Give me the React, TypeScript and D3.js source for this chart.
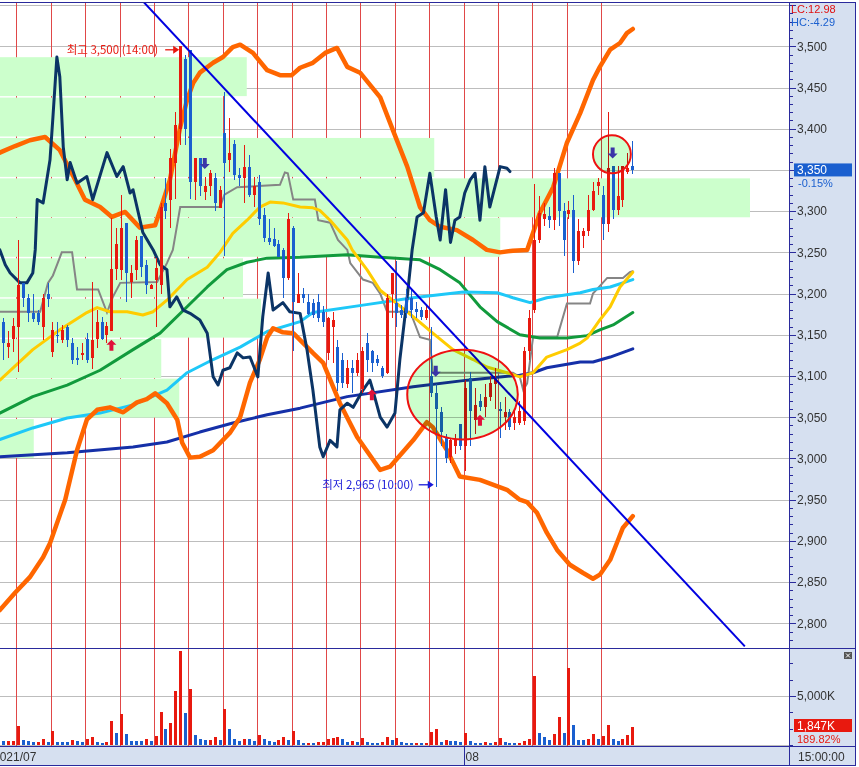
import * as d3 from "d3";

// hourly candles, index 0 = last 3 bars of 2021/07/13 ... index 128 = 2021/08/06 15:00
const opens = [3165,3135,3145,3160,3213,3195,3176,3176,3160,3200,
  3129,3150,3144,3160,3140,3122,3125,3145,3122,3145,
  3166,3150,3155,3230,3229,3286,3214,3229,3270,3235,
  3205,3217,3210,3310,3314,3358,3400,3485,3495,3335,
  3365,3323,3330,3340,3304,3395,3362,3382,3344,3340,
  3353,3320,3335,3295,3268,3266,3260,3253,3219,3280,
  3189,3200,3190,3188,3190,3178,3128,3160,3135,3120,
  3090,3110,3104,3084,3140,3130,3121,3110,3104,3200,
  3188,3180,3195,3195,3181,3180,3170,3100,3080,3056,
  3025,3002,3015,3042,3015,3098,3047,3070,3062,3075,
  3090,3060,3050,3056,3043,3043,3045,3130,3180,3265,
  3290,3294,3289,3346,3300,3296,3302,3240,3270,3276,
  3302,3330,3320,3285,3355,3302,3314,3348,3355];
const highs = [3170,3155,3170,3265,3213,3200,3200,3180,3200,3213,
  3166,3165,3162,3162,3146,3135,3140,3152,3214,3180,
  3172,3166,3292,3280,3320,3286,3235,3270,3270,3241,
  3212,3243,3310,3340,3375,3420,3500,3490,3495,3365,
  3365,3342,3350,3346,3330,3445,3413,3386,3352,3380,
  3368,3342,3344,3304,3290,3280,3265,3255,3298,3282,
  3225,3207,3200,3193,3200,3185,3172,3178,3144,3128,
  3120,3120,3128,3135,3152,3132,3125,3112,3200,3225,
  3240,3186,3205,3205,3190,3184,3186,3160,3090,3062,
  3030,3025,3030,3042,3095,3105,3085,3078,3090,3100,
  3110,3068,3075,3060,3060,3070,3135,3180,3333,3318,
  3310,3305,3352,3346,3310,3312,3320,3290,3280,3320,
  3335,3340,3330,3420,3355,3355,3355,3370,3385];
const lows = [3120,3122,3129,3105,3184,3166,3166,3162,3144,3184,
  3123,3140,3140,3135,3115,3113,3120,3116,3108,3134,
  3144,3140,3155,3217,3217,3190,3195,3217,3220,3200,
  3205,3160,3200,3290,3280,3315,3380,3380,3315,3314,
  3318,3314,3318,3300,3304,3245,3348,3338,3330,3310,
  3317,3305,3283,3262,3259,3256,3244,3195,3217,3130,
  3189,3189,3174,3170,3165,3160,3120,3116,3082,3085,
  3085,3080,3100,3080,3105,3105,3112,3098,3102,3170,
  3160,3170,3170,3170,3170,3168,3168,3075,2965,3015,
  2995,2995,3005,3010,2985,3015,3030,3058,3050,3070,
  3060,3025,3035,3035,3035,3040,3040,3120,3176,3261,
  3282,3280,3277,3282,3245,3290,3225,3235,3255,3270,
  3300,3320,3265,3275,3290,3295,3305,3345,3345];
const closes = [3140,3140,3161,3211,3195,3177,3169,3165,3195,3193,
  3156,3148,3156,3144,3120,3120,3128,3120,3144,3166,
  3145,3161,3230,3260,3280,3225,3225,3265,3232,3210,
  3210,3231,3305,3300,3365,3405,3500,3400,3335,3365,
  3330,3330,3346,3310,3326,3358,3370,3344,3340,3353,
  3320,3330,3290,3268,3262,3258,3244,3219,3290,3190,
  3200,3195,3175,3174,3170,3165,3170,3168,3092,3092,
  3110,3104,3120,3130,3120,3116,3116,3100,3195,3225,
  3176,3174,3176,3180,3178,3171,3180,3080,3060,3032,
  3000,3022,3023,3015,3085,3058,3065,3063,3075,3092,
  3096,3057,3056,3038,3050,3058,3130,3170,3265,3298,
  3296,3289,3346,3300,3265,3302,3240,3276,3276,3302,
  3325,3335,3285,3352,3302,3318,3355,3352,3350];

// volume in K shares, and bar colour (r = up, b = down)
const volumes = [410,410,410,1940,510,410,310,310,610,310,
  1430,310,310,310,510,410,310,610,820,310,
  200,310,2450,1220,3160,1120,410,410,410,610,
  410,920,3370,1630,2240,5500,9600,3260,5700,1020,
  610,510,510,820,510,3670,1630,610,410,610,
  610,410,1020,610,410,310,510,820,510,1430,
  510,200,200,200,310,310,610,710,820,610,
  310,410,310,710,310,200,200,310,820,510,
  710,310,200,200,200,200,200,1360,1630,310,
  510,410,410,310,1220,410,200,200,310,200,
  310,710,310,200,200,200,410,610,7040,1220,
  820,510,1120,2860,1220,7860,2040,510,510,610,
  1120,610,920,2040,610,410,610,1020,1847];
const volumeSide = ("brrrbbbrrb" + "rbbbrbbrrb" + "brrbrbbbbr" + "brrbrrrbrb" + "bbrrbrbbbr" +
  "bbrbbbrrbr" + "bbrbrrrrrb" + "brbrbbbrrb" + "rbbbrbrrrb" + "rbbbrbbbrb" +
  "rrbbbrrrrb" + "bbrrbrbbbr" + "rbrrbbrrr").split("");

// first bar of every trading day
const dayStarts = [3, 10, 17, 24, 31, 38, 45, 52, 59, 66, 73, 80, 87, 94, 101, 108, 115, 122];

// price-by-volume bands (low price of band, relative volume)
const bandLows = [2999, 3048, 3096, 3145, 3194, 3243, 3291, 3340, 3389, 3438];
const bandVolumes = [4.5, 23.9, 21.5, 34.8, 32.4, 66.7, 100, 57.9, 29.7, 32.9];
const bandSize = 48.8;

// indicator lines as [bar index, price]
const bbUpper: [number, number][] = [[-0.7,3371],[2.4,3379],[5.4,3386],[8.5,3390],[11.5,3374],[14.6,3338],[16.6,3314],[19.7,3305],[22.1,3293],[24.8,3299],[27.8,3280],[30.9,3283],[32.3,3308],[33.9,3338],[36,3402],[37.4,3435],[38.6,3455],[40,3468],[42.7,3480],[44.7,3487],[46.7,3499],[48.2,3502],[50.8,3492],[53.7,3471],[56.3,3465],[58.7,3465],[60.4,3474],[63,3480],[65.5,3492],[67.9,3498],[70,3475],[72.6,3468],[76.7,3438],[79.3,3398],[82.2,3354],[84.8,3305],[86.8,3289],[88.9,3281],[92.3,3277],[95.6,3265],[98.4,3253],[101.1,3250],[103.7,3252],[106.6,3253],[109.2,3298],[111.9,3329],[114.7,3383],[117.4,3419],[120,3459],[121.4,3475],[123.5,3496],[125.5,3504],[126.9,3516],[128.1,3521]];
const bbLower: [number, number][] = [[-0.7,2816],[2.4,2837],[5.4,2856],[8.1,2880],[9.5,2897],[12.6,2950],[15,3010],[17,3047],[19.1,3059],[21.7,3062],[24.4,3056],[27.2,3068],[29.2,3072],[30.9,3079],[33.3,3067],[35.4,3047],[36.4,3019],[38,3001],[40,3002],[42.7,3010],[46.1,3031],[48.2,3050],[50.2,3092],[52.2,3120],[53.7,3147],[54.9,3158],[56.9,3153],[59,3152],[63,3128],[65.1,3116],[68.5,3067],[72,3026],[76.7,2986],[78.7,2990],[83.4,3022],[86.2,3044],[87.4,3038],[90.3,3010],[92.9,2978],[97,2974],[102.5,2962],[105.1,2950],[106.6,2947],[108.6,2934],[110.6,2910],[112.7,2889],[115.3,2871],[118,2861],[120,2854],[121.4,2859],[123.5,2877],[124.9,2898],[126.1,2916],[128.1,2930]];
const lagging: [number, number][] = [[-0.7,3253],[0.4,3235],[1.4,3225],[3.4,3213],[4.8,3213],[6,3225],[6.5,3253],[6.9,3314],[8.1,3310],[9.5,3362],[10.1,3414],[10.9,3487],[11.5,3463],[12.2,3378],[13,3338],[13.6,3359],[15,3334],[17,3342],[18.2,3314],[21.1,3371],[23.1,3342],[24.4,3354],[25.8,3322],[26.4,3326],[28.4,3274],[30.5,3253],[31.9,3235],[33.3,3229],[33.9,3184],[35.3,3196],[36.6,3180],[38,3176],[40,3168],[41.5,3152],[42.7,3099],[43.7,3089],[44.7,3107],[46.1,3110],[47.6,3128],[48.8,3122],[50.2,3123],[51.8,3099],[52.8,3172],[53.9,3225],[54.9,3180],[56.9,3189],[58.3,3178],[60.4,3176],[61.8,3132],[63,3083],[64.4,3014],[65.1,3002],[66.5,3022],[67.9,3014],[68.5,3059],[70,3067],[71.2,3062],[73.2,3083],[74.6,3095],[75.2,3083],[76.7,3050],[78.1,3038],[79.7,3055],[80.7,3120],[82.2,3196],[83.2,3253],[84.2,3293],[85.5,3298],[86.8,3346],[88.1,3293],[88.9,3265],[90,3326],[91,3262],[91.9,3289],[92.9,3293],[93.9,3322],[95,3338],[96,3346],[97,3289],[98,3354],[99,3305],[101.1,3354],[102.5,3352],[103.1,3348]];
const ma20: [number, number][] = [[-0.7,3095],[6,3132],[11.5,3156],[17,3177],[19.1,3183],[21.7,3178],[25.2,3178],[28.4,3174],[30.5,3178],[33.3,3192],[37.4,3217],[41.5,3232],[44.1,3250],[46.7,3273],[49.6,3289],[52.2,3305],[54.3,3311],[56.9,3310],[60.4,3305],[63,3304],[64.4,3301],[66.5,3289],[70,3265],[71,3253],[74,3229],[76.7,3204],[83.4,3172],[87.4,3152],[91.5,3132],[95.6,3120],[98.4,3111],[102.5,3104],[105.1,3099],[107.8,3104],[110.6,3123],[114.7,3132],[117.4,3140],[118.8,3146],[121.4,3168],[123.5,3184],[125.5,3208],[128.1,3226]];
const ma60: [number, number][] = [[-0.7,3055],[6,3075],[13,3089],[19.7,3107],[26.4,3132],[31.9,3152],[37.4,3184],[41.5,3208],[45.5,3229],[49.6,3238],[53.7,3243],[60.4,3244],[70,3247],[76.7,3244],[84.8,3241],[88.9,3229],[92.9,3213],[97,3184],[100.5,3166],[105.1,3150],[109.2,3146],[114.7,3146],[118.8,3149],[121.4,3156],[124.1,3162],[128.1,3177]];
const ma120: [number, number][] = [[-0.7,3023],[6,3037],[13,3049],[19.7,3055],[26.4,3065],[33.3,3083],[37.4,3104],[42.7,3120],[48.2,3135],[53.7,3154],[60.4,3166],[63,3177],[73.2,3186],[83.4,3195],[93.6,3202],[100.5,3201],[103.7,3195],[107.2,3189],[110.6,3195],[117.4,3201],[120,3205],[123.5,3208],[128.1,3217]];
const ma240: [number, number][] = [[-0.7,3002],[13,3007],[26.4,3014],[33.3,3020],[40,3032],[46.7,3043],[53.7,3053],[60.4,3061],[70,3075],[83.4,3087],[94.4,3095],[105.1,3101],[107.8,3104],[110.6,3110],[117.4,3117],[120,3117],[123.5,3123],[128.1,3133]];
const baseLine: [number, number][] = [[-0.7,3178],[7.5,3178],[9.1,3213],[10.1,3222],[11.9,3250],[14,3250],[15,3205],[19.3,3205],[21.1,3177],[22.3,3196],[23.8,3213],[31.3,3214],[33.3,3237],[34.5,3253],[36,3305],[44.1,3305],[45,3320],[47.6,3329],[56.3,3332],[57.3,3347],[57.9,3346],[59,3314],[63.4,3314],[64.1,3289],[66.5,3286],[68.1,3265],[70,3253],[70.6,3237],[73.2,3217],[75.2,3213],[76.7,3200],[78.1,3178],[82.8,3178],[84.8,3147],[86.8,3144],[87.4,3104],[103.7,3104],[105.1,3099],[105.8,3083],[106.6,3091],[107.8,3147],[112.7,3147],[114.7,3188],[119.4,3188],[120,3200],[122.9,3219],[126.1,3219],[127.5,3226],[128.1,3227]];
const trendLine: [number, number][] = [[28.2, 3556], [150.9, 2772]];

// signal arrows: bar index, tip price
const upSignals: [number, number][] = [[22, 3144], [75, 3084], [97, 3053]];
const downSignals: [number, number][] = [[41, 3351], [88, 3099], [124, 3364]];
// highlighted zones: [index from, index to, price low, price high]
const zones: [number, number, number, number][] = [[82.2, 104.7, 3023, 3132], [120, 127.7, 3346, 3392]];

const priceTicks = d3.range(2800, 3551, 50);
const minorTicks = d3.range(2780, 3551, 10);

const PLOT_R = 789.5;
const P_TOP = 2.5;
const P_BOT = 648.5;
const V_BOT = 745;
const D_TOP = 746.5;
const D_BOT = 765.5;
const AX_R = 855.5;

const UP = "#e8190f";
const DOWN = "#1a5fcf";
const FRAME = "#2a2a9c";
const NUM_FONT = "'Liberation Sans', Arial, sans-serif";
const KR_FONT = "'Noto Sans CJK KR', 'Liberation Sans', sans-serif";

export default function App() {
  const x = d3.scaleLinear().domain([0, 128]).range([3.3, 632.3]);
  const y = d3.scaleLinear().domain([2800, 3500]).range([623.3, 46.3]);
  const yv = d3.scaleLinear().domain([0, 5000]).range([V_BOT, 696]);
  const bw = d3.scaleLinear().domain([0, 100]).range([0, 750]);
  const line = d3.line<[number, number]>().x(d => x(d[0])).y(d => y(d[1]));
  const idx = d3.range(opens.length);
  const fmt = d3.format(",");
  const px = (v: number) => Math.round(v) + 0.5;

  const last = closes.length - 1;
  const lastY = y(closes[last]);

  return (
    <div style={{ position: "fixed", left: 0, top: 0 }}>
      <svg width={859} height={767} style={{ display: "block", background: "#fff" }}>
        <defs>
          <clipPath id="pclip"><rect x={0} y={P_TOP} width={PLOT_R} height={P_BOT - P_TOP} /></clipPath>
          <clipPath id="vclip"><rect x={0} y={P_BOT} width={PLOT_R} height={V_BOT - P_BOT + 1} /></clipPath>
        </defs>

        {/* right axis panel and date bar */}
        <rect x={PLOT_R} y={P_TOP} width={AX_R - PLOT_R} height={D_BOT - P_TOP} fill="#d6e0f0" />
        <rect x={0} y={D_TOP} width={AX_R} height={D_BOT - D_TOP} fill="#d6e0f0" />

        {/* horizontal grid */}
        {priceTicks.map(t => (
          <line key={"g" + t} x1={0} x2={PLOT_R} y1={px(y(t))} y2={px(y(t))} stroke="#bdbdbd" shapeRendering="crispEdges" />
        ))}
        <line x1={0} x2={PLOT_R} y1={px(yv(5000))} y2={px(yv(5000))} stroke="#bdbdbd" shapeRendering="crispEdges" />
        <line x1={0} x2={PLOT_R} y1={px(yv(0))} y2={px(yv(0))} stroke="#bdbdbd" shapeRendering="crispEdges" />

        {/* day separators */}
        {dayStarts.map(d => (
          <line key={"d" + d} x1={px(x(d - 0.35))} x2={px(x(d - 0.35))} y1={P_TOP} y2={D_TOP} stroke="#e04848" shapeRendering="crispEdges" />
        ))}

        {/* price by volume bands */}
        <g clipPath="url(#pclip)">
          {bandLows.map((lo, k) => (
            <rect key={"b" + k} x={0} y={y(lo + bandSize)} width={bw(bandVolumes[k])}
              height={y(lo) - y(lo + bandSize) - 1.3} fill="#ccffcc" />
          ))}
        </g>

        {/* indicator lines */}
        <g clipPath="url(#pclip)" fill="none" strokeLinejoin="round" strokeLinecap="round">
          <path d={line(baseLine)!} stroke="#858585" strokeWidth={2} strokeLinejoin="miter" />
          <path d={line(ma240)!} stroke="#1530a8" strokeWidth={3} />
          <path d={line(ma60)!} stroke="#119a3c" strokeWidth={3} />
          <path d={line(ma120)!} stroke="#1ec8f8" strokeWidth={3} />
          <path d={line(ma20)!} stroke="#ffcc00" strokeWidth={3} />
          <path d={line(bbUpper)!} stroke="#ff6600" strokeWidth={4.5} />
          <path d={line(bbLower)!} stroke="#ff6600" strokeWidth={4.5} />
          <path d={line(lagging)!} stroke="#0b3466" strokeWidth={3} />
        </g>

        {/* candles */}
        <g clipPath="url(#pclip)" shapeRendering="crispEdges">
          {idx.map(i => {
            const up = closes[i] >= opens[i];
            const c = up ? UP : DOWN;
            const cx = Math.round(x(i));
            const top = y(Math.max(opens[i], closes[i]));
            const bot = y(Math.min(opens[i], closes[i]));
            return (
              <g key={"c" + i}>
                <line x1={cx + 0.5} x2={cx + 0.5} y1={y(highs[i])} y2={y(lows[i])} stroke={c} />
                <rect x={cx - 1} y={top} width={3} height={Math.max(1.5, bot - top)} fill={c} />
              </g>
            );
          })}
        </g>

        {/* trend line */}
        <g clipPath="url(#pclip)">
          <path d={line(trendLine)!} stroke="#0000e0" strokeWidth={2} fill="none" />
        </g>

        {/* highlighted zones */}
        {zones.map((z, k) => {
          const cx = (x(z[0]) + x(z[1])) / 2;
          const cy = (y(z[2]) + y(z[3])) / 2;
          const rx = (x(z[1]) - x(z[0])) / 2;
          const ry = (y(z[2]) - y(z[3])) / 2;
          return (
            <g key={"z" + k}>
              <ellipse cx={cx} cy={cy} rx={rx} ry={ry} fill="#ccffcc" style={{ mixBlendMode: "multiply" }} />
              <ellipse cx={cx} cy={cy} rx={rx} ry={ry} fill="none" stroke="#ee1111" strokeWidth={2} />
            </g>
          );
        })}

        {/* signals */}
        {upSignals.map(([i, p], k) => {
          const cx = x(i), t = y(p);
          return <path key={"u" + k} fill="#e0103a"
            d={`M${cx},${t} L${cx + 5},${t + 5} L${cx + 2},${t + 5} L${cx + 2},${t + 11} L${cx - 2},${t + 11} L${cx - 2},${t + 5} L${cx - 5},${t + 5} Z`} />;
        })}
        {downSignals.map(([i, p], k) => {
          const cx = x(i), t = y(p);
          return <path key={"n" + k} fill="#3b35a8"
            d={`M${cx},${t} L${cx + 5},${t - 5} L${cx + 2},${t - 5} L${cx + 2},${t - 11} L${cx - 2},${t - 11} L${cx - 2},${t - 5} L${cx - 5},${t - 5} Z`} />;
        })}

        {/* high / low annotations */}
        <g fontFamily={KR_FONT} fontSize={11.5}>
          <text x={x(36) - 22} y={y(3500) + 8} textAnchor="end" fill="#e8190f">최고 3,500 (14:00)</text>
          <line x1={x(36) - 15} x2={x(36) - 6} y1={y(3500) + 3.5} y2={y(3500) + 3.5} stroke="#e8190f" strokeWidth={1.3} />
          <path d={`M${x(36) - 1},${y(3500) + 3.5} l-6,-4 v8 Z`} fill="#e8190f" />
          <text x={x(88) - 22} y={y(2965) + 2} textAnchor="end" fill="#1a1ad8">최저 2,965 (10:00)</text>
          <line x1={x(88) - 17} x2={x(88) - 7} y1={y(2965) - 2.5} y2={y(2965) - 2.5} stroke="#1a1ad8" strokeWidth={1.3} />
          <path d={`M${x(88) - 2},${y(2965) - 2.5} l-6,-4 v8 Z`} fill="#1a1ad8" />
        </g>

        {/* volume bars */}
        <g clipPath="url(#vclip)" shapeRendering="crispEdges">
          {idx.map(i => {
            const cx = Math.round(x(i));
            return <rect key={"v" + i} x={cx - 1} y={yv(volumes[i])} width={3} height={V_BOT - yv(volumes[i])}
              fill={volumeSide[i] === "r" ? UP : DOWN} />;
          })}
        </g>

        {/* frame lines */}
        <g stroke={FRAME} shapeRendering="crispEdges">
          <line x1={0} x2={AX_R} y1={P_TOP} y2={P_TOP} />
          <line x1={0} x2={AX_R} y1={P_BOT} y2={P_BOT} />
          <line x1={0} x2={AX_R} y1={D_TOP} y2={D_TOP} />
          <line x1={0} x2={AX_R} y1={D_BOT} y2={D_BOT} />
          <line x1={PLOT_R} x2={PLOT_R} y1={P_TOP} y2={D_BOT} />
          <line x1={AX_R} x2={AX_R} y1={P_TOP} y2={D_BOT} />
          <line x1={px(x(94 - 0.35))} x2={px(x(94 - 0.35))} y1={D_TOP} y2={D_BOT} />
        </g>

        {/* price / volume axis ticks */}
        <g shapeRendering="crispEdges" stroke={FRAME}>
          {minorTicks.filter(t => y(t) > P_TOP + 2 && y(t) < P_BOT - 2).map(t => (
            <line key={"m" + t} x1={PLOT_R} x2={PLOT_R + (t % 50 === 0 ? 6 : 3.5)} y1={px(y(t))} y2={px(y(t))} />
          ))}
          {d3.range(0, 10001, 5000 / 3).filter(v => yv(v) > P_BOT + 2).map(v => (
            <line key={"vm" + v} x1={PLOT_R} x2={PLOT_R + (Math.abs(v - 5000) < 1 ? 6 : 3.5)} y1={px(yv(v))} y2={px(yv(v))} />
          ))}
        </g>
        <g fontFamily={NUM_FONT} fontSize={12} fill="#333">
          {priceTicks.filter(t => t <= 3500 && t !== closes[last]).map(t => (
            <text key={"l" + t} x={797} y={y(t)} dy="0.36em">{fmt(t)}</text>
          ))}
          <text x={797} y={yv(5000)} dy="0.36em">5,000K</text>
          <text x={798} y={761}>15:00:00</text>
          <text x={-7} y={761}>2021/07</text>
          <text x={x(94 - 0.35) + 2} y={761}>08</text>
        </g>

        {/* current values */}
        <g fontFamily={NUM_FONT} fontSize={11}>
          <text x={791} y={13} fill="#e01010">LC:12.98</text>
          <text x={791} y={26} fill="#1a5fcf">HC:-4.29</text>
          <rect x={794} y={lastY - 6.5} width={58} height={13} fill="#1a5fcf" />
          <text x={797} y={lastY + 4} fill="#fff" fontSize={12}>{fmt(closes[last])}</text>
          <text x={798} y={lastY + 17}  fill="#1a5fcf">-0.15%</text>
          <rect x={794} y={719} width={58} height={13} fill={UP} />
          <text x={797} y={729.5} fill="#fff" fontSize={12}>{fmt(volumes[last])}K</text>
          <text x={797} y={743} fill={UP}>189.82%</text>
        </g>
        <rect x={844} y={652} width={8} height={7} fill="#555" />
        <path d="M846,653.5 l4,4 M850,653.5 l-4,4" stroke="#fff" strokeWidth={1} />
      </svg>
    </div>
  );
}
